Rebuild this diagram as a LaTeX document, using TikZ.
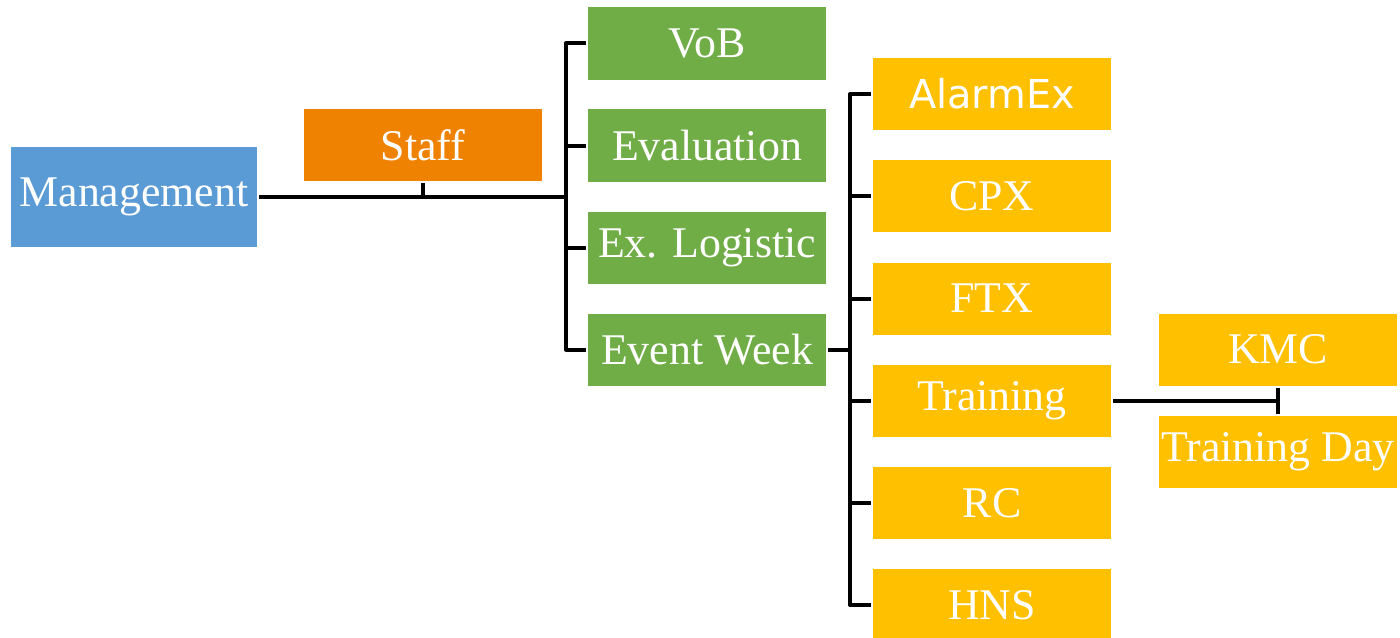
\documentclass[tikz,border=0pt]{standalone}
\usepackage{fontspec}
\setmainfont{Liberation Serif}
\newfontfamily\alarmfont{DejaVu Sans}
\definecolor{mgmtblue}{HTML}{5B9BD5}
\definecolor{stafforange}{HTML}{EF8200}
\definecolor{phasegreen}{HTML}{70AD47}
\definecolor{eventyellow}{HTML}{FFC000}

\begin{document}
\begin{tikzpicture}[x=0.5bp,y=-0.5bp,line width=2bp,line join=round]
                \tikzstyle{box}=[rectangle,text=white,minimum width=119bp,minimum height=36bp,inner sep=0pt,font=\fontsize{22}{24}\selectfont]
                \tikzstyle{mgmtbox}=[box,fill=mgmtblue,minimum width=123bp,minimum height=50bp]
                \tikzstyle{staffbox}=[box,fill=stafforange]
                \tikzstyle{greenbox}=[box,fill=phasegreen]
                \tikzstyle{yellowbox}=[box,fill=eventyellow]
                \useasboundingbox (0,0) rectangle (1400,638);

                \node[mgmtbox] (M) at (134,197) {Management};
                \node[staffbox] (S) at (423,145) {Staff};
                \foreach \num/\y/\txt in {1/43.5/VoB, 2/145.5/Evaluation, 3/247.5/Ex. Logistic, 4/349.5/Event Week}
                        \node[greenbox] (G-\num) at (707,\y) {\txt};
                \foreach \num/\y/\txt in {1/94/{\alarmfont\fontsize{20}{24}\selectfont AlarmEx}, 2/196/CPX, 3/298.5/FTX, 4/400.5/Training, 5/503/RC, 6/605/HNS}
                        \node[yellowbox] (Y-\num) at (992,\y) {\txt};
                \node[yellowbox] (K) at (1278,349.5) {KMC};
                \node[yellowbox] (TD) at (1278,451.5) {Training Day};

                \coordinate (J1) at (566,197);
                \coordinate (J2) at (850,349.5);
                \draw (M.east) -- (J1);
                \draw (S.south) -- (S.south |- J1);
                    \foreach \num in {1,...,4}
                        \draw (J1) |- (G-\num.west);
                \draw (G-4.east) -- (J2);
                    \foreach \num in {1,...,6}
                        \draw (J2) |- (Y-\num.west);
                \draw (Y-4.east) -- (Y-4.east -| K.south);
                \draw (K.south) -- (TD.north);
\end{tikzpicture}
\end{document}
